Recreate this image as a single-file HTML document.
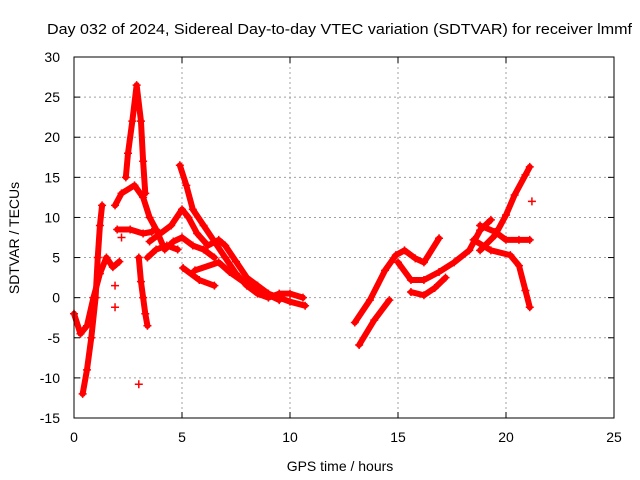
<!DOCTYPE html>
<html><head><meta charset="utf-8"><style>
body{margin:0;background:#fff}
svg{display:block;font-family:"Liberation Sans",sans-serif}
</style></head><body>
<svg id="chart" width="640" height="480">
<text x="47" y="34" font-size="15" textLength="585" lengthAdjust="spacingAndGlyphs">Day 032 of 2024, Sidereal Day-to-day VTEC variation (SDTVAR) for receiver lmmf</text>
<text x="340" y="471" text-anchor="middle" font-size="14">GPS time / hours</text>
<text transform="translate(19,238) rotate(-90)" text-anchor="middle" font-size="14">SDTVAR / TECUs</text>
<g id="grid"></g>
<g id="ticks"></g>
<g id="marks"></g>
<rect x="74" y="57" width="540" height="361" fill="none" stroke="#000" stroke-width="1"/>
</svg>
<script>
const xTicks=[0,5,10,15,20,25];
const yTicks=[30,25,20,15,10,5,0,-5,-10,-15];
const trackA=[[0,-2],[0.3,-4.5],[0.6,-3.5],[0.9,0],[1.2,3],[1.5,5],[1.8,3.8],[2.1,4.5]];
const trackB=[[0.4,-12],[0.6,-9],[0.8,-5],[1.0,0],[1.1,5],[1.2,9],[1.3,11.5]];
const trackC=[[1.9,11.5],[2.2,13],[2.8,14],[3.2,12.5],[3.5,10],[3.8,8.5],[4.2,6],[4.6,7],[5.0,7.5],[5.5,6.5],[6,6],[6.5,5]];
const trackD=[[2.4,15],[2.5,18],[2.7,22],[2.9,26.5],[3.1,22],[3.2,17],[3.3,13]];
const trackE=[[3.0,5],[3.1,2],[3.2,0],[3.3,-2],[3.4,-3.5]];
const trackF=[[4.9,16.5],[5.2,14],[5.5,11],[6,9],[6.5,7],[7,5],[7.5,3],[8,1.5],[8.5,0.5],[9,0],[9.5,0.5],[10,0.5],[10.6,0]];
const trackG=[[3.5,7],[4,8],[4.5,9],[5,11],[5.3,10],[5.7,8],[6.2,6.5],[6.7,7.2],[7,6.5],[7.5,4.5],[8,2.5],[8.5,1.5],[9,0.5],[9.5,0],[10,-0.5],[10.7,-1]];
const trackH=[[5.05,3.7],[5.8,2.2],[6.5,1.5]];
const trackI=[[5.6,3.4],[6.7,4.4],[7.2,3.2],[8.1,1.5],[9.5,-0.3]];
const trackJ=[[3.4,5],[3.8,6],[4.3,6.5],[4.8,6]];
const trackK=[[2.0,8.5],[2.6,8.5],[3.2,8],[3.6,8.2]];
const trackR1=[[13.0,-3.1],[13.7,-0.3],[14.4,3.4],[14.9,5.3],[15.3,5.9],[15.8,4.9],[16.2,4.4],[16.9,7.4]];
const trackR2=[[15.0,4.4],[15.6,2.2],[16.2,2.2],[16.9,3.2],[17.6,4.4],[18.3,5.9],[18.8,8.4],[19.3,9.7]];
const trackR3=[[15.6,0.7],[16.2,0.3],[16.7,1.2],[17.2,2.5]];
const trackR4=[[18.8,9.0],[19.5,8.2],[20,7.2],[20.6,7.2],[21.1,7.2]];
const trackR5=[[18.5,7.2],[19.3,5.9],[20.2,5.3],[20.6,4.0],[20.9,0.9],[21.1,-1.2]];
const trackR6=[[18.8,5.9],[19.5,7.8],[20,10.3],[20.4,12.8],[20.9,15.3],[21.1,16.3]];
const trackR7=[[13.2,-5.9],[13.9,-2.8],[14.6,-0.3]];
const isolated=[[3,-10.8],[1.9,-1.2],[1.9,1.5],[2.2,7.5],[21.2,12]];
const tracks=[trackA,trackB,trackC,trackD,trackE,trackF,trackG,trackH,trackI,trackJ,trackK,trackR1,trackR2,trackR3,trackR4,trackR5,trackR6,trackR7];
const X0=74,X1=614,Y0=418,Y1=57,XMAX=25,YMIN=-15,YMAX=30;
const sx=v=>X0+(v/XMAX)*(X1-X0);
const sy=v=>Y0-(v-YMIN)/(YMAX-YMIN)*(Y0-Y1);
const NS="http://www.w3.org/2000/svg";
const grid=document.getElementById('grid'),ticks=document.getElementById('ticks'),marks=document.getElementById('marks');
function mk(tag,attrs,parent){const e=document.createElementNS(NS,tag);for(const k in attrs)e.setAttribute(k,attrs[k]);parent.appendChild(e);return e;}
xTicks.forEach(t=>{
  const x=sx(t);
  if(t>0&&t<XMAX){const g=mk('line',{x1:x,x2:x,y1:Y1,y2:Y0,stroke:'#a0a0a0','stroke-dasharray':'2,3'},grid);
  
  }
  const l=mk('text',{x:x,y:Y0+24,'text-anchor':'middle','font-size':'14'},ticks);l.textContent=t;
  
  
  mk('line',{x1:x,x2:x,y1:Y0,y2:Y0-6,stroke:'#000'},ticks);
  mk('line',{x1:x,x2:x,y1:Y1,y2:Y1+6,stroke:'#000'},ticks);
});
yTicks.forEach(t=>{
  const y=sy(t);
  if(t>YMIN&&t<YMAX){const g=mk('line',{x1:X0,x2:X1,y1:y,y2:y,stroke:'#a0a0a0','stroke-dasharray':'2,3'},grid);
  
  }
  const l=mk('text',{x:X0-14,y:y+5,'text-anchor':'end','font-size':'14'},ticks);l.textContent=t;
  
  
  mk('line',{x1:X0,x2:X0+6,y1:y,y2:y,stroke:'#000'},ticks);
  mk('line',{x1:X1,x2:X1-6,y1:y,y2:y,stroke:'#000'},ticks);
});
function plus(p){
  const x=sx(p[0]),y=sy(p[1]);
  const e=mk('path',{d:`M${x-4},${y}H${x+4}M${x},${y-4}V${y+4}`,stroke:'#f00','stroke-width':1.5},marks);
  
  
}
tracks.forEach(tr=>{
  const d=tr.map((p,i)=>(i?'L':'M')+sx(p[0])+','+sy(p[1])).join('');
  const e=mk('path',{d:d,fill:'none',stroke:'#f00','stroke-width':6,'stroke-linejoin':'round','stroke-linecap':'round'},marks);
  
  
  tr.forEach(plus);
});
isolated.forEach(plus);
</script>
</body></html>
